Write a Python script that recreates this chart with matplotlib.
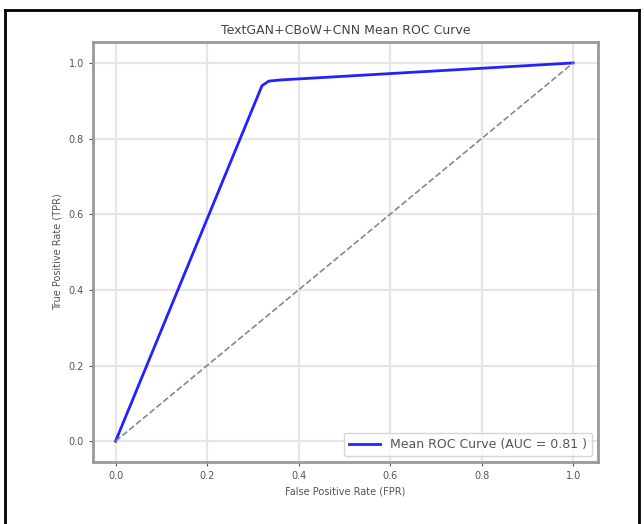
import numpy as np
import matplotlib.pyplot as plt
from matplotlib.lines import Line2D

# mean ROC curve points
fpr = [0.0, 0.32, 0.335, 0.36, 1.0]
tpr = [0.0, 0.94, 0.952, 0.955, 1.0]
auc_label = "0.81"

fig = plt.figure(figsize=(6.44, 5.24), dpi=100)
ax = fig.add_axes([0.144, 0.118, 0.785, 0.802])

ax.plot(fpr, tpr, color='#2222ff', lw=2, label='Mean ROC Curve (AUC = ' + auc_label + ' )')
ax.plot([0, 1], [0, 1], linestyle='--', color='#888888', lw=1.2)

ax.set_xlim(-0.05, 1.055)
ax.set_ylim(-0.0556, 1.0556)
ticks = [0.0, 0.2, 0.4, 0.6, 0.8, 1.0]
ax.set_xticks(ticks)
ax.set_yticks(ticks)
ax.tick_params(labelsize=7, colors='#555555', length=3)
ax.grid(True, color='#e6e6e6', lw=1.6)
for s in ax.spines.values():
    s.set_color('#999999')
    s.set_linewidth(2)

ax.set_title('TextGAN+CBoW+CNN Mean ROC Curve', fontsize=9, color='#444444')
ax.set_xlabel('False Positive Rate (FPR)', fontsize=7, color='#555555')
ax.set_ylabel('True Positive Rate (TPR)', fontsize=7, color='#555555')
leg = ax.legend(loc='lower right', fontsize=9, frameon=True, handlelength=2.5)
for t in leg.get_texts():
    t.set_color('#555555')

# black screenshot frame (top, left, right)
fig.add_artist(Line2D([5 / 644, 5 / 644], [0, 1 - 10 / 524], transform=fig.transFigure, color='black', lw=2))
fig.add_artist(Line2D([639 / 644, 639 / 644], [0, 1 - 10 / 524], transform=fig.transFigure, color='black', lw=2))
fig.add_artist(Line2D([5 / 644, 639 / 644], [1 - 10 / 524, 1 - 10 / 524], transform=fig.transFigure, color='black', lw=2))

fig.savefig('out.png', dpi=100)
